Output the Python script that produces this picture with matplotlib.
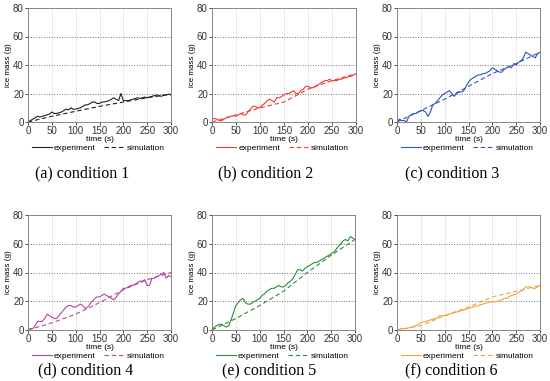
import matplotlib.pyplot as plt

W, H = 550, 381

t_exp = list(range(0, 301, 5))
t_sim = [0, 50, 100, 150, 200, 250, 300]

exp1 = [0, 1, 2, 3, 4, 3.5, 4, 4.5, 5, 5.5,
        7, 6, 6, 6.5, 7, 8, 9, 8.5, 10, 9,
        9, 9.5, 10, 11, 12, 12, 13, 14, 14, 13,
        13, 14, 14, 14.5, 15, 16, 17, 16, 15, 20,
        15, 15, 15, 15.5, 16, 16.5, 17, 16.5, 17, 17.5,
        17, 17.5, 18, 18.5, 19, 18.5, 18, 19, 19, 19.5, 19]
exp2 = [2, 2.5, 2, 1, 1, 2, 3, 3.5, 4, 4.5,
        4, 5, 6, 5, 5, 7, 9, 11, 11, 10,
        10, 12, 13, 15, 16, 15, 14, 17, 17, 18,
        19, 20, 20, 21, 22, 20, 20, 22, 23, 25,
        25, 24, 24, 25, 26, 27, 28, 29, 29, 30,
        29, 29, 29, 30, 30, 31, 31, 32, 32, 33, 34]
exp3 = [0, 2, 1, 1, 0, 4, 5, 6, 6, 7,
        8, 8, 7, 4, 7, 12, 13, 15, 17, 19,
        20, 21, 22, 20, 18, 20, 21, 21, 22, 25,
        28, 30, 31, 32, 33, 33, 34, 34, 35, 36,
        38, 37, 36, 35, 35, 37, 38, 39, 38, 41,
        40, 42, 43, 45, 49, 48, 47, 46, 45, 48, 49]
exp4 = [0, 1, 1, 3, 6, 6, 6, 8, 11, 10,
        9, 8, 8, 10, 12, 14, 16, 17, 17, 16,
        16, 17, 18, 17, 15, 16, 18, 20, 22, 23,
        23, 24, 25, 24, 23, 22, 21, 23, 25, 27,
        29, 29, 30, 31, 31, 32, 33, 34, 34, 35,
        31, 31, 36, 36, 37, 38, 39, 40, 36, 38, 37]
exp5 = [0, 2, 3, 4, 4, 3, 2, 3, 7, 12,
        17, 19, 21, 22, 19, 18, 18, 19, 20, 21,
        22, 24, 25, 27, 28, 29, 29, 30, 31, 30,
        30, 31, 33, 34, 36, 39, 42, 42, 41, 43,
        44, 45, 46, 47, 47, 48, 49, 50, 51, 52,
        53, 54, 56, 58, 60, 62, 63, 62, 65, 64, 63]
exp6 = [0, 0.5, 1, 1, 1, 1.5, 2, 2.5, 3, 4,
        5, 5.5, 6, 6.5, 7, 7.5, 8, 8.5, 10, 10,
        10, 10.5, 11, 11.5, 12, 12.5, 13, 13.5, 14, 14.5,
        15, 15.5, 16, 16.5, 17, 17.5, 18, 18.5, 19, 19.5,
        19.5, 19.5, 20, 20.5, 21, 22, 22, 23, 24, 24.5,
        25, 26, 27, 28, 30, 30, 30, 29, 29, 30, 31]

sim1 = [0, 4, 7.5, 11, 14, 17, 19.5]
sim2 = [0, 5, 10, 14, 23, 29, 34]
sim3 = [0, 8, 16, 25, 34, 41, 49]
sim4 = [0, 5, 11, 19, 28, 35, 40]
sim5 = [0, 8, 17, 27, 40, 52, 63]
sim6 = [0, 3, 10, 16, 23, 27, 31]

exps = [exp1, exp2, exp3, exp4, exp5, exp6]
sims = [sim1, sim2, sim3, sim4, sim5, sim6]
colors = ['#222222', '#ee3b34', '#2f55b5', '#b4479f', '#2e8b3a', '#f5a040']
captions = ['(a) condition 1', '(b) condition 2', '(c) condition 3',
            '(d) condition 4', '(e) condition 5', '(f) condition 6']

# axes boxes in pixels: left, right, top, bottom
boxes = [(28, 171, 8, 122), (212, 356, 8, 122), (397, 540, 8, 122),
         (28, 171, 215, 330), (212, 355, 215, 330), (397, 540, 215, 330)]
cap_pos = [(82, 173), (266, 173), (452, 173), (86, 370), (269, 370), (451, 370)]

plt.rcParams['font.family'] = ['Liberation Sans', 'DejaVu Sans']

fig = plt.figure(figsize=(W / 100, H / 100), dpi=100)

for i in range(6):
    l, r, t, b = boxes[i]
    ax = fig.add_axes([l / W, 1 - b / H, (r - l) / W, (b - t) / H])
    ax.plot(t_exp, exps[i], color=colors[i], lw=0.8, label='experiment')
    ax.plot(t_sim, sims[i], color=colors[i], lw=0.8, ls=(0, (4, 2.5)), label='simulation')
    ax.set_xlim(0, 300)
    ax.set_ylim(0, 80)
    ax.set_xticks(range(0, 301, 50))
    ax.set_yticks(range(0, 81, 20))
    ax.xaxis.grid(True, ls=':', color='#c8c8c8', lw=0.7)
    ax.yaxis.grid(True, ls=':', color='#707070', lw=0.7)
    ax.tick_params(labelsize=7, length=2, width=0.6, pad=1, colors='#333333')
    for s in ax.spines.values():
        s.set_color('#888888')
        s.set_linewidth(0.7)
    ax.set_xlabel('time (s)', fontsize=6, labelpad=0)
    ax.set_ylabel('ice mass (g)', fontsize=5.8, labelpad=1)
    ax.legend(loc='center', bbox_to_anchor=(0.49, -0.23), ncol=2, frameon=False,
              fontsize=6, handlelength=2.4, columnspacing=1.0, handletextpad=0.3)
    cx, cy = cap_pos[i]
    fig.text(cx / W, 1 - cy / H, captions[i], ha='center', va='center',
             family='Liberation Serif', fontsize=11.5)

fig.savefig('out.png', dpi=100)
